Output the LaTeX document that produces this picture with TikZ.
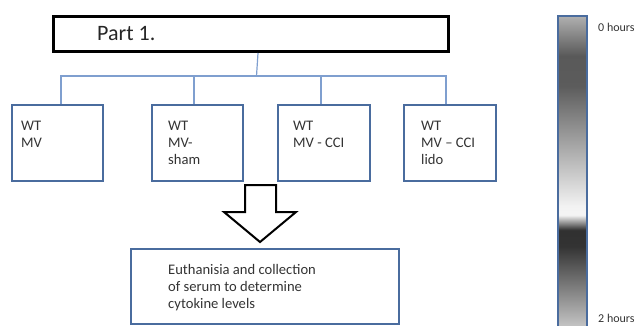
\documentclass[tikz,border=0pt]{standalone}
\usepackage{fontspec}
\setmainfont{Carlito}
\usetikzlibrary{positioning, calc}

\definecolor{boxblue}{HTML}{4A6C9E}
\definecolor{linkblue}{HTML}{7F9FCF}
\pgfdeclareverticalshading{timebar}{100bp}{color(0bp)=(black!22); color(25bp)=(black!22); color(38.1bp)=(black!80); color(40.7bp)=(black!81); color(43.1bp)=(black!4); color(44.5bp)=(black!5); color(63.8bp)=(black!64); color(68.6bp)=(black!65); color(75bp)=(black!31); color(100bp)=(black!31)}

\begin{document}
\begin{tikzpicture}[
    x=1pt, y=-1pt,
    group/.style={rectangle, draw=boxblue, line width=2pt, minimum width=91pt, minimum height=76pt, anchor=north west, inner sep=0pt},
    grouptext/.style={anchor=north west, align=left, font=\fontsize{14.6}{17}\selectfont, text=black!80, inner sep=0pt},
    hours/.style={anchor=west, font=\fontsize{12}{14}\selectfont, text=black!80, inner sep=0pt},
    link/.style={draw=linkblue, line width=1.2pt}
]
\useasboundingbox (0,0) rectangle (639,325);

% Title box
\node[rectangle, draw, line width=3pt, minimum width=395pt, minimum height=35pt, anchor=north west] (part) at (52,15) {};
\node[anchor=base west, font=\fontsize{22}{26}\selectfont, text=black!85, inner sep=0pt] (parttext) at (97,40.5) {Part 1.};

% Four groups
\node[group] (g1) at (11,104) {};
\node[group] (g2) at (151,104) {};
\node[group, minimum width=92pt] (g3) at (277,104) {};
\node[group, minimum width=92pt] (g4) at (403,104) {};

\node[grouptext] (t1) at (21,120.5) {WT\\MV};
\node[grouptext] (t2) at (168,120.5) {WT\\MV-\\sham};
\node[grouptext] (t3) at (293,120.5) {WT\\MV - CCI};
\node[grouptext] (t4) at (421,120.5) {WT\\MV -- CCI\\lido};

% Tree lines
\coordinate (bus) at (256.5,76);
\draw[link] ([xshift=7pt]part.south) -- (bus);
\draw[link] ([xshift=3.5pt]g1.north) |- (bus) -| ([xshift=-4pt]g4.north);
\draw[link] ([xshift=-3.5pt]g2.north) |- (bus);
\draw[link] ([xshift=-3pt]g3.north) |- (bus);

% Block arrow
\draw[line width=2pt, line join=miter] (245,185) -- (276,185) -- (276,212) -- (296,212) -- (260,242) -- (224,212) -- (245,212) -- cycle;

% Outcome box
\node[rectangle, draw=boxblue, line width=2pt, minimum width=268pt, minimum height=75pt, anchor=north west] (outcome) at (130,248) {};
\node[grouptext] (outtext) at (168,264) {Euthanisia and collection\\of serum to determine\\cytokine levels};

% Time bar
\node[rectangle, draw=boxblue, line width=2pt, shading=timebar, shade, minimum width=29pt, minimum height=312pt, anchor=north west] (bar) at (557,15) {};
\node[hours] (start) at (598,27.5) {0 hours};
\node[hours] (finish) at (598,318.5) {2 hours};

\end{tikzpicture}
\end{document}
